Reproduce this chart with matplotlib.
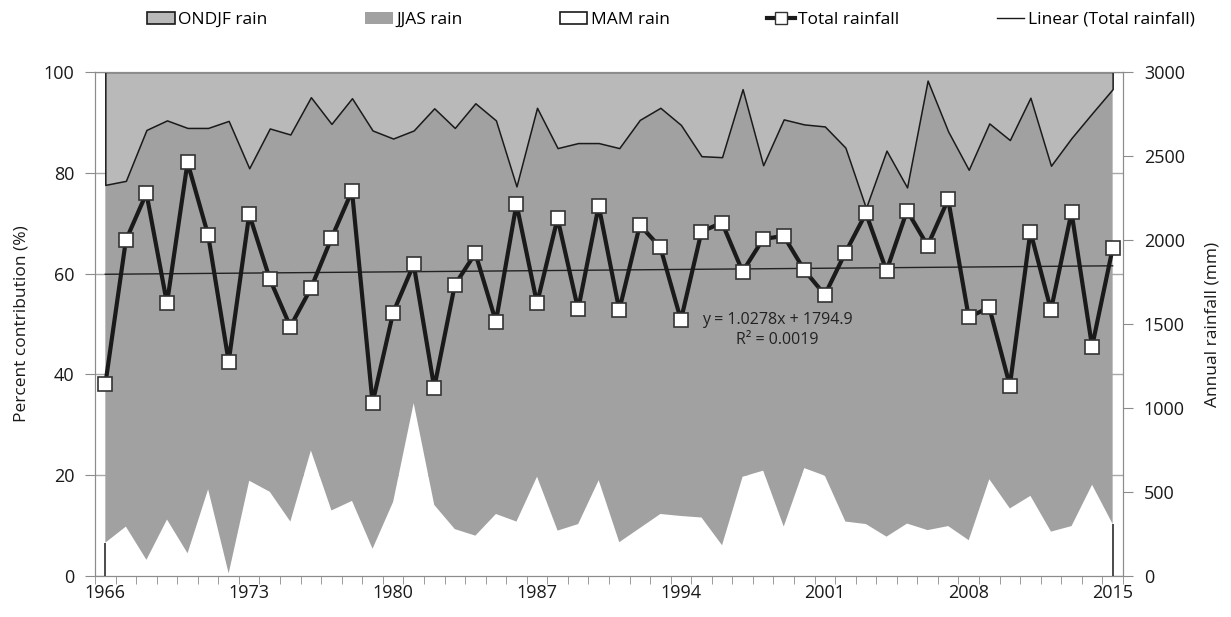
import numpy as np
import matplotlib.pyplot as plt
from matplotlib.patches import Patch
from matplotlib.lines import Line2D

plt.rcParams['font.family'] = ['Open Sans', 'DejaVu Sans']

years = list(range(1966, 2016))

# seasonal share of annual rainfall (%)
mam_pct = [6.6, 9.8, 3.2, 11.2, 4.5, 17.2, 0.5, 18.9, 16.7, 10.8,
           24.9, 13.0, 14.9, 5.4, 14.7, 34.3, 14.1, 9.3, 8.0, 12.3,
           10.8, 19.7, 9.0, 10.3, 19.0, 6.7, 9.5, 12.3, 11.9, 11.6,
           6.1, 19.7, 20.9, 9.8, 21.4, 19.9, 10.8, 10.3, 7.8, 10.4,
           9.1, 9.9, 7.1, 19.2, 13.4, 15.9, 8.8, 9.9, 18.1, 10.3]
jjas_pct = [71.0, 68.6, 85.3, 79.2, 84.4, 71.7, 89.8, 62.0, 72.1, 76.8,
            70.1, 76.7, 79.9, 83.0, 72.1, 54.1, 78.7, 79.6, 85.8, 78.1,
            66.5, 73.2, 75.9, 75.6, 66.9, 78.2, 81.0, 80.6, 77.6, 71.7,
            77.0, 76.9, 60.6, 80.8, 68.2, 69.3, 74.2, 62.7, 76.6, 66.7,
            89.2, 78.3, 73.5, 70.6, 73.1, 79.0, 72.6, 77.0, 73.7, 86.3]
ondjf_pct = [22.4, 21.6, 11.5, 9.6, 11.1, 11.1, 9.7, 19.1, 11.2, 12.4,
             5.0, 10.3, 5.2, 11.6, 13.2, 11.6, 7.2, 11.1, 6.2, 9.6,
             22.7, 7.1, 15.1, 14.1, 14.1, 15.1, 9.5, 7.1, 10.5, 16.7,
             16.9, 3.4, 18.5, 9.4, 10.4, 10.8, 15.0, 27.0, 15.6, 22.9,
             1.7, 11.8, 19.4, 10.2, 13.5, 5.1, 18.6, 13.1, 8.2, 3.4]

# annual rainfall (mm)
total_mm = [1140, 1998, 2278, 1623, 2462, 2030, 1276, 2153, 1768, 1484,
            1712, 2010, 2292, 1030, 1567, 1855, 1121, 1732, 1921, 1514,
            2214, 1623, 2129, 1587, 2204, 1583, 2089, 1956, 1524, 2050,
            2103, 1812, 2006, 2024, 1821, 1673, 1925, 2159, 1817, 2175,
            1966, 2242, 1540, 1599, 1133, 2050, 1583, 2165, 1365, 1950]

# Excel trend line (x = 1..50)
trend_slope = 1.0278
trend_icept = 1794.9

year_labels = [1966, 1973, 1980, 1987, 1994, 2001, 2008, 2015]

c_ondjf = '#b9b9b9'
c_jjas = '#a0a1a0'
gray = '#8c8c8c'

fig = plt.figure(figsize=(12.31, 6.17), dpi=100)
ax = fig.add_axes([0.0772, 0.0665, 0.835, 0.8168])

yr = np.array(years)
mam = np.array(mam_pct)
top = mam + np.array(jjas_pct)
ax.fill_between(yr, 0, mam, facecolor='white', lw=0, zorder=2)
ax.fill_between(yr, mam, top, facecolor=c_jjas, lw=0, zorder=2)
ax.fill_between(yr, top, top + np.array(ondjf_pct), facecolor=c_ondjf,
                edgecolor='#1a1a1a', lw=1.1, zorder=3)
ax.vlines([yr[0], yr[-1]], 0, [mam[0], mam[-1]], color='#1a1a1a', lw=1.1, zorder=3)

ax.set_xlim(1965.5, 2015.5)
ax.set_ylim(0, 100)
ax.set_yticks(range(0, 101, 20))
ax.set_axisbelow(True)
ax.yaxis.grid(True, color='#a8a8a8', lw=1)
ax.set_xticks(year_labels)
ax.set_xticks(np.arange(1965.5, 2016, 1), minor=True)
ax.tick_params(axis='x', which='major', length=0, pad=6, labelsize=13, labelcolor='#1a1a1a')
ax.tick_params(axis='x', which='minor', length=6, color=gray, direction='out')
ax.tick_params(axis='y', length=7, color=gray, labelsize=13, labelcolor='#1a1a1a', pad=8)
for s in ax.spines.values():
    s.set_color(gray)
ax.set_ylabel('Percent contribution (%)', fontsize=12.5, color='#1a1a1a', labelpad=10)

ax2 = ax.twinx()
ax2.plot(yr, total_mm, color='#1a1a1a', lw=3, marker='s', ms=10.5,
         mfc='white', mec='#333333', mew=1.2, zorder=5)
xs = np.arange(1, len(years) + 1)
ax2.plot(yr, trend_slope * xs + trend_icept, color='#222222', lw=1, zorder=4)
ax2.set_ylim(0, 3000)
ax2.set_yticks(range(0, 3001, 500))
ax2.tick_params(axis='y', length=7, color=gray, labelsize=13, labelcolor='#1a1a1a', pad=8)
for s in ax2.spines.values():
    s.set_color(gray)
ax2.set_ylabel('Annual rainfall (mm)', fontsize=12.5, color='#1a1a1a', labelpad=14)
ax2.text(1998.7, 1524, 'y = 1.0278x + 1794.9', ha='center', va='center', fontsize=11.5, color='#222222')
ax2.text(1998.7, 1405, 'R² = 0.0019', ha='center', va='center', fontsize=11.5, color='#222222')

handles = [
    Patch(facecolor=c_ondjf, edgecolor='#1a1a1a', lw=1.2),
    Patch(facecolor=c_jjas, edgecolor='none'),
    Patch(facecolor='white', edgecolor='#1a1a1a', lw=1.2),
    Line2D([], [], color='#1a1a1a', lw=3, marker='s', ms=9, mfc='white', mec='#333333'),
    Line2D([], [], color='#1a1a1a', lw=1),
]
labels = ['ONDJF rain', 'JJAS rain', 'MAM rain', 'Total rainfall', 'Linear (Total rainfall)']
fig.legend(handles, labels, loc='center', bbox_to_anchor=(0.545, 0.968), ncol=5,
           frameon=False, fontsize=12.5, columnspacing=5.6, handlelength=1.6,
           handletextpad=0.2)

fig.savefig('out.png', dpi=100)
